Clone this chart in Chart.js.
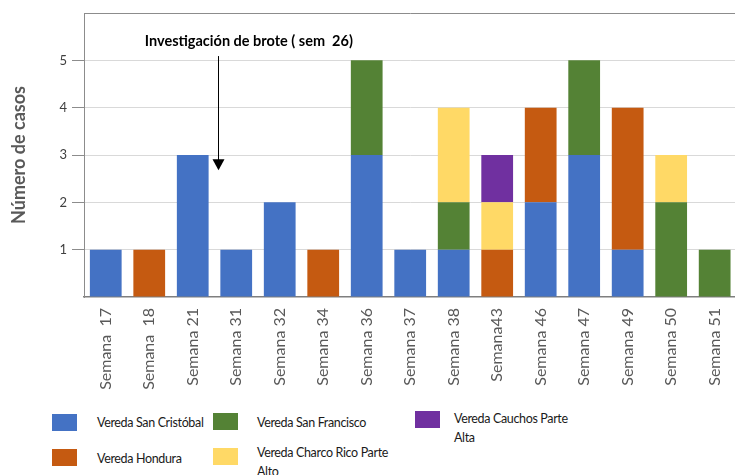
<!DOCTYPE html>
<html>
<head>
<meta charset="utf-8">
<script src="https://cdn.jsdelivr.net/npm/chart.js@4/dist/chart.umd.min.js"></script>
<style>
  html, body { margin: 0; padding: 0; overflow: hidden; background: #fff; }
  #wrap { position: relative; width: 735px; height: 475px; overflow: hidden; font-family: Lato, sans-serif; }
  #chart { position: absolute; left: 0; top: 0; }
  .sw { position: absolute; width: 25px; height: 17px; }
  .lt { position: absolute; font-size: 12.5px; letter-spacing: -0.35px; line-height: 19px; color: #1a1a1a; }
</style>
</head>
<body>
<div id="wrap">
  <canvas id="chart" width="745" height="400"></canvas>
</div>
<script>
// semanas epidemiológicas
const semanas = ["Semana  17", "Semana  18", "Semana 21", "Semana 31", "Semana 32", "Semana 34", "Semana 36",
  "Semana 37", "Semana 38", "Semana43", "Semana 46", "Semana 47", "Semana 49", "Semana 50", "Semana 51"];

// casos por vereda
const sanCristobal = [1, 0, 3, 1, 2, 0, 3, 1, 1, 0, 2, 3, 1, 0, 0];
const hondura      = [0, 1, 0, 0, 0, 1, 0, 0, 0, 1, 2, 0, 3, 0, 0];
const sanFrancisco = [0, 0, 0, 0, 0, 0, 2, 0, 1, 0, 0, 2, 0, 2, 1];
const charcoRico   = [0, 0, 0, 0, 0, 0, 0, 0, 2, 1, 0, 0, 0, 1, 0];
const cauchos      = [0, 0, 0, 0, 0, 0, 0, 0, 0, 1, 0, 0, 0, 0, 0];

const nombres = ["Vereda San Cristóbal", "Vereda Hondura", "Vereda San Francisco",
  "Vereda Charco Rico Parte Alto", "Vereda Cauchos Parte Alta"];
const colores = ["#4472C4", "#C55A11", "#548235", "#FFD966", "#7030A0"];

// anotación (posición en unidades de eje)
const notaTexto = "Investigación de brote ( sem  26)";
const notaX = 3.29;      // índice de categoría del texto
const notaY = 5.41;
const flechaX = 2.58;
const flechaDesde = 5.09;
const flechaHasta = 2.68;

Chart.defaults.font.family = "Lato";

const series = [sanCristobal, hondura, sanFrancisco, charcoRico, cauchos];

const annotationPlugin = {
  id: "nota",
  afterDraw(chart) {
    const { ctx, scales: { x, y } } = chart;
    const px = v => {
      const i = Math.floor(v);
      const a = x.getPixelForValue(i), b = x.getPixelForValue(i + 1);
      return a + (b - a) * (v - i);
    };
    ctx.save();
    ctx.fillStyle = "#000";
    ctx.font = "bold 14.5px Lato";
    ctx.textAlign = "center";
    ctx.textBaseline = "middle";
    ctx.fillText(notaTexto, px(notaX), y.getPixelForValue(notaY));

    const ax = Math.round(px(flechaX)) + 0.5;
    const y0 = y.getPixelForValue(flechaDesde);
    const y1 = y.getPixelForValue(flechaHasta);
    ctx.strokeStyle = "#000";
    ctx.lineWidth = 1;
    ctx.beginPath();
    ctx.moveTo(ax, y0);
    ctx.lineTo(ax, y1 - 10);
    ctx.stroke();
    ctx.beginPath();
    ctx.moveTo(ax - 6, y1 - 11);
    ctx.lineTo(ax + 6, y1 - 11);
    ctx.lineTo(ax, y1);
    ctx.closePath();
    ctx.fill();
    ctx.restore();
  }
};

const ctx = document.getElementById("chart").getContext("2d");
new Chart(ctx, {
  type: "bar",
  data: {
    labels: semanas,
    datasets: series.map((d, i) => ({
      label: nombres[i],
      data: d,
      backgroundColor: colores[i],
      borderWidth: 0
    }))
  },
  options: {
    responsive: false,
    animation: false,
    layout: { padding: { top: 13, right: 4, left: 0, bottom: 0 } },
    datasets: { bar: { categoryPercentage: 1, barPercentage: 0.73 } },
    plugins: { legend: { display: false }, tooltip: { enabled: false } },
    scales: {
      x: {
        stacked: true,
        grid: { display: false, drawTicks: false },
        border: { display: true, color: "#7f7f7f", width: 1.5 },
        ticks: {
          minRotation: 90, maxRotation: 90, autoSkip: false, padding: 11,
          color: "#595959", font: { size: 16 }
        },
        afterFit(s) { s.height = 103; }
      },
      y: {
        stacked: true,
        min: 0, max: 6,
        ticks: {
          stepSize: 1, padding: 5, color: "#404040", font: { size: 13 },
          callback: v => (v > 0 && v < 6) ? v : ""
        },
        grid: {
          tickLength: 12,
          color: c => c.tick.value === 6 ? "#8c8c8c" : (c.tick.value === 0 ? "rgba(0,0,0,0)" : "#d9d9d9"),
          tickColor: c => (c.tick.value > 0 && c.tick.value < 6) ? "#8c8c8c" : "rgba(0,0,0,0)"
        },
        border: { color: "#8c8c8c", width: 1 },
        title: {
          display: true, text: "Número de casos", color: "#595959",
          font: { size: 18, weight: "bold" }, padding: { top: 8, bottom: 0 }
        },
        afterFit(s) { s.width = 84; }
      }
    }
  },
  plugins: [annotationPlugin]
});

// leyenda
const leyenda = [
  { sw: [52, 414], tx: [97, 413], w: 160 },
  { sw: [52, 449], tx: [97, 449], w: 160 },
  { sw: [213, 413], tx: [257, 413], w: 160 },
  { sw: [213, 448], tx: [257, 443], w: 138 },
  { sw: [415, 411], tx: [454, 409], w: 122 }
];
const wrap = document.getElementById("wrap");
leyenda.forEach((p, i) => {
  const s = document.createElement("div");
  s.className = "sw";
  s.style.left = p.sw[0] + "px";
  s.style.top = p.sw[1] + "px";
  s.style.background = colores[i];
  wrap.appendChild(s);
  const t = document.createElement("div");
  t.className = "lt";
  t.style.left = p.tx[0] + "px";
  t.style.top = p.tx[1] + "px";
  t.style.width = p.w + "px";
  t.textContent = nombres[i];
  wrap.appendChild(t);
});
</script>
</body>
</html>
